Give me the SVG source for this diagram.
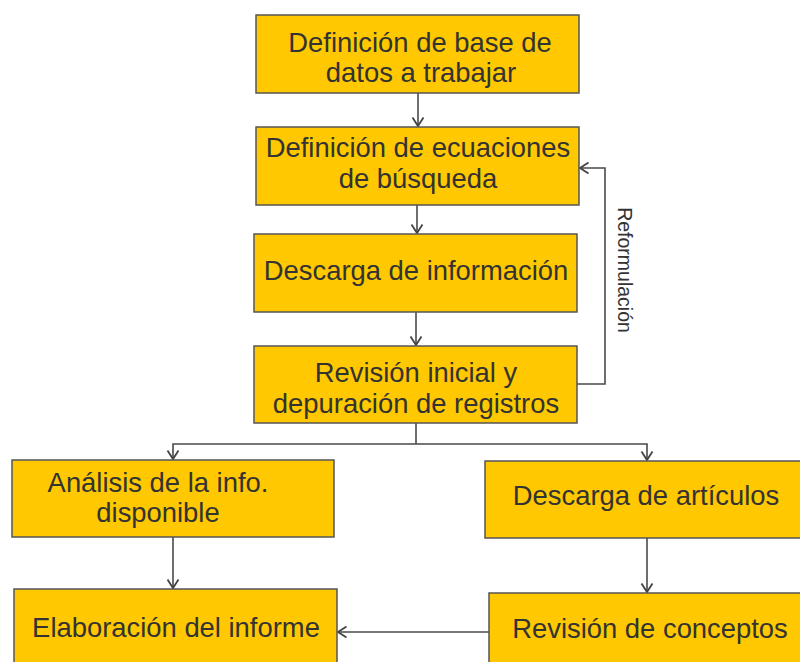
<svg xmlns="http://www.w3.org/2000/svg" width="800" height="662" viewBox="0 0 800 662">
<defs>
<style>
.box{fill:#FFC800;stroke:#555;stroke-width:1.5}
.t{font-family:"Liberation Sans",Arial,sans-serif;font-size:27.4px;fill:#333;text-anchor:middle}
.c{fill:none;stroke:#4a4a4a;stroke-width:1.6}
.lbl{font-family:"Liberation Sans",Arial,sans-serif;font-size:19.5px;fill:#333;text-anchor:middle}
</style>
<marker id="a" markerWidth="12" markerHeight="14" refX="10" refY="7" orient="auto" markerUnits="userSpaceOnUse">
<path d="M1.5,1.5 L10,7 L1.5,12.5" fill="none" stroke="#444" stroke-width="1.8"/>
</marker>
</defs>
<rect width="800" height="662" fill="#fff"/>
<g id="connectors">
<path class="c" d="M418,93 V126" marker-end="url(#a)"/>
<path class="c" d="M417,205 V233" marker-end="url(#a)"/>
<path class="c" d="M416,312 V345" marker-end="url(#a)"/>
<path class="c" d="M577,384 H605 V168 H580" marker-end="url(#a)"/>
<path class="c" d="M416,423 V444"/>
<path class="c" d="M416,444 H173 V459" marker-end="url(#a)"/>
<path class="c" d="M416,444 H647 V460" marker-end="url(#a)"/>
<path class="c" d="M173,537 V588" marker-end="url(#a)"/>
<path class="c" d="M647,538 V592" marker-end="url(#a)"/>
<path class="c" d="M489,632 H338" marker-end="url(#a)"/>
<text class="lbl" transform="translate(618,270) rotate(90)">Reformulación</text>
</g>
<g id="n1"><rect class="box" x="256" y="15" width="323" height="78"/>
<text class="t" x="420" y="52">Definición de base de</text><text class="t" x="421" y="82">datos a trabajar</text></g>
<g id="n2"><rect class="box" x="256" y="127" width="323" height="78"/>
<text class="t" x="418" y="157">Definición de ecuaciones</text><text class="t" x="418" y="188">de búsqueda</text></g>
<g id="n3"><rect class="box" x="254" y="234" width="323" height="78"/>
<text class="t" x="416" y="280">Descarga de información</text></g>
<g id="n4"><rect class="box" x="254" y="346" width="323" height="77"/>
<text class="t" x="416" y="382">Revisión inicial y</text><text class="t" x="416" y="413">depuración de registros</text></g>
<g id="n5"><rect class="box" x="12" y="460" width="322" height="77"/>
<text class="t" x="158" y="492">Análisis de la info.</text><text class="t" x="158" y="522">disponible</text></g>
<g id="n6"><rect class="box" x="485" y="461" width="324" height="77"/>
<text class="t" x="646" y="505">Descarga de artículos</text></g>
<g id="n7"><rect class="box" x="14" y="589" width="323" height="78"/>
<text class="t" x="176" y="637">Elaboración del informe</text></g>
<g id="n8"><rect class="box" x="489" y="593" width="323" height="78"/>
<text class="t" x="650" y="638">Revisión de conceptos</text></g>
</svg>
